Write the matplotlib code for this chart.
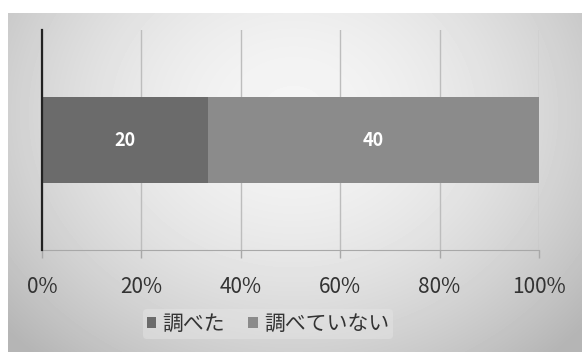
import numpy as np
import matplotlib
matplotlib.use("Agg")
from matplotlib import pyplot as plt
from matplotlib.patches import Patch

plt.rcParams['font.family'] = ['Noto Sans CJK JP', 'DejaVu Sans']

# data
series_names = ['調べた', '調べていない']
series_values = [20, 40]
series_colors = ['#6b6b6b', '#8b8b8b']
tick_values = [0, 20, 40, 60, 80, 100]
tick_labels = ['0%', '20%', '40%', '60%', '80%', '100%']

W, H = 582, 352
fig = plt.figure(figsize=(W / 100, H / 100), dpi=100)
fig.patch.set_facecolor('white')

# soft radial gradient behind the chart
bg = fig.add_axes([8 / W, 0, 1 - 8 / W, 1 - 13 / H])
yy, xx = np.mgrid[0:339, 0:574]
cx, cy = 285, 100
d = np.sqrt(((xx - cx) / 320.0) ** 2 + ((yy - cy) / 270.0) ** 2)
shade = 0.96 - 0.18 * np.clip(d, 0, 1.2) ** 1.8
bg.imshow(shade, cmap='gray', vmin=0, vmax=1, aspect='auto', interpolation='bilinear')
bg.set_axis_off()

ax = fig.add_axes([42 / W, 1 - 250 / H, (539 - 42) / W, 220 / H])
ax.patch.set_alpha(0)

total = sum(series_values)
left = 0.0
for name, val, col in zip(series_names, series_values, series_colors):
    pct = val / total * 100
    ax.barh(0, pct, left=left, height=0.39, color=col, zorder=3)
    ax.text(left + pct / 2, 0, str(val), ha='center', va='center',
            color='white', fontsize=13, fontweight='bold', zorder=4)
    left += pct

ax.set_xlim(0, 100)
ax.set_ylim(-0.5, 0.5)
ax.set_xticks(tick_values)
ax.set_xticklabels(tick_labels, fontsize=15, color='#333333')
ax.set_yticks([])
ax.xaxis.grid(True, color='#bdbdbd', lw=1, zorder=0)
ax.tick_params(axis='x', length=6, width=1, color='#a8a8a8', pad=13)

for s in ['top', 'right']:
    ax.spines[s].set_visible(False)
ax.spines['bottom'].set_color('#a8a8a8')
ax.spines['left'].set_color('#222222')
ax.spines['left'].set_linewidth(1.6)
ax.spines['left'].set_zorder(5)

handles = [Patch(facecolor=c, edgecolor='none') for c in series_colors]
leg = fig.legend(handles, series_names, loc='center',
                 bbox_to_anchor=(268 / W, 1 - 324 / H), ncol=2, frameon=True,
                 fontsize=15, handlelength=0.45, handleheight=0.45,
                 handletextpad=0.3, columnspacing=1.1, borderpad=0.2)
leg.get_frame().set_facecolor('#e4e4e4')
leg.get_frame().set_edgecolor('none')
leg.get_frame().set_alpha(0.5)
for t in leg.get_texts():
    t.set_color('#333333')

fig.savefig('out.png', dpi=100)
